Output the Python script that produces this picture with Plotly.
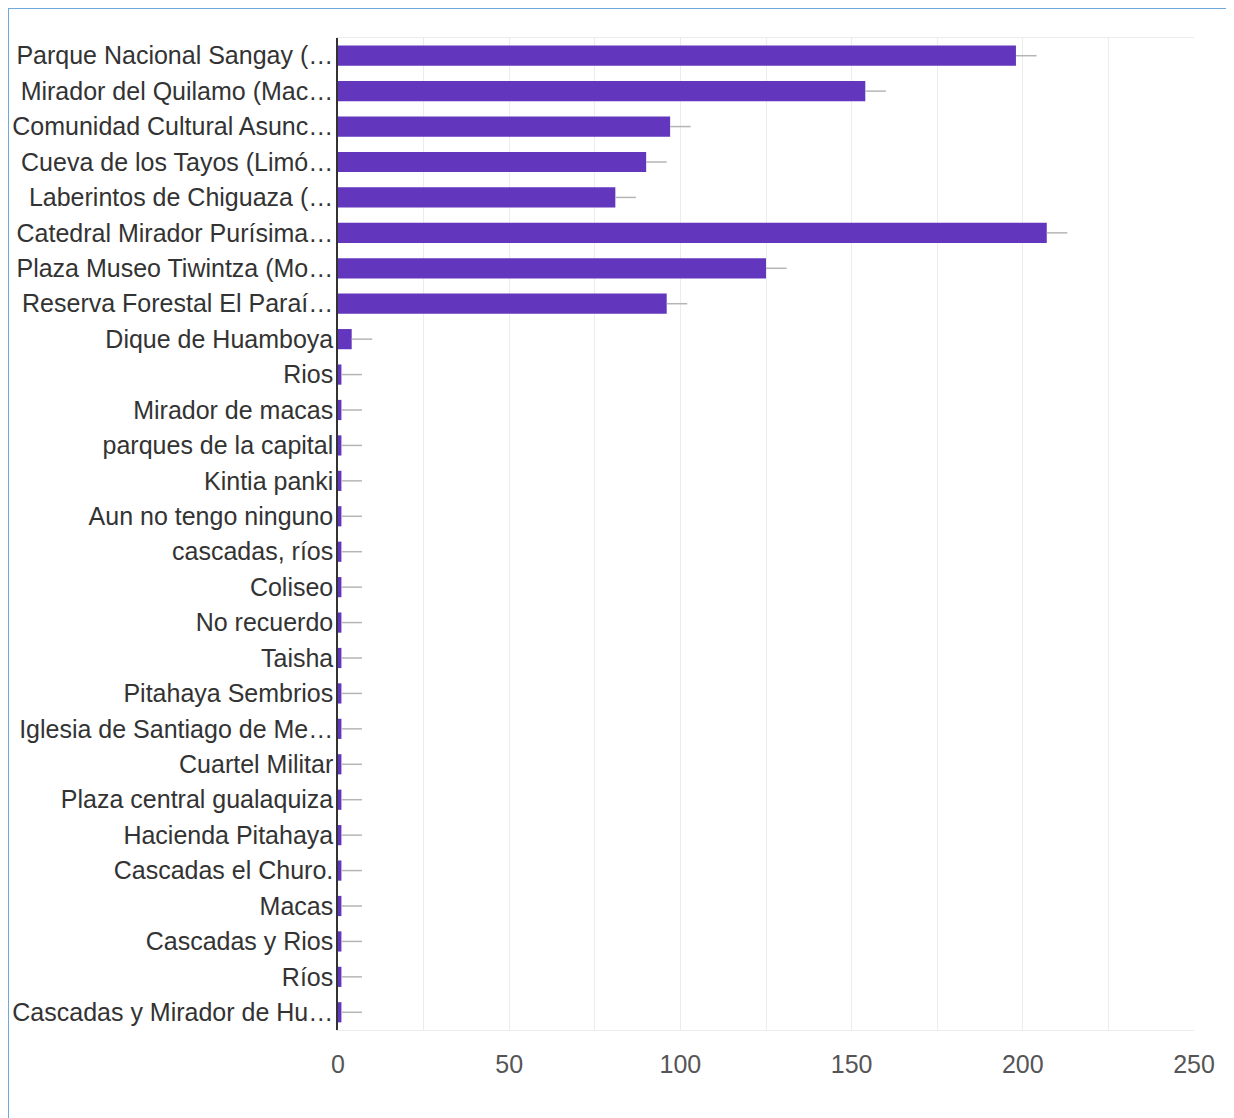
import plotly.graph_objects as go

categories = [
    "Parque Nacional Sangay (…",
    "Mirador del Quilamo (Mac…",
    "Comunidad Cultural Asunc…",
    "Cueva de los Tayos (Limó…",
    "Laberintos de Chiguaza (…",
    "Catedral Mirador Purísima…",
    "Plaza Museo Tiwintza (Mo…",
    "Reserva Forestal El Paraí…",
    "Dique de Huamboya",
    "Rios",
    "Mirador de macas",
    "parques de la capital",
    "Kintia panki",
    "Aun no tengo ninguno",
    "cascadas, ríos",
    "Coliseo",
    "No recuerdo",
    "Taisha",
    "Pitahaya Sembrios",
    "Iglesia de Santiago de Me…",
    "Cuartel Militar",
    "Plaza central gualaquiza",
    "Hacienda Pitahaya",
    "Cascadas el Churo.",
    "Macas",
    "Cascadas y Rios",
    "Ríos",
    "Cascadas y Mirador de Hu…",
]
values = [198, 154, 97, 90, 81, 207, 125, 96, 4] + [1] * 19
x_ticks = [0, 50, 100, 150, 200, 250]

BAR = "#6236bd"

# page has an 8px body margin; figure is sized/offset to compensate
W, H = 1226, 1110
L, T = 330, 30
PW, PH = 856, 992

fig = go.Figure(
    go.Bar(
        x=values,
        y=categories,
        orientation="h",
        marker=dict(color=BAR, line=dict(width=0)),
        width=0.57,
        error_x=dict(
            type="data",
            symmetric=False,
            array=[6] * len(values),
            arrayminus=[0] * len(values),
            color="#b5b5b5",
            thickness=1.5,
            width=0,
        ),
    )
)

fig.update_layout(
    width=W,
    height=H,
    margin=dict(l=L, r=W - L - PW, t=T, b=H - T - PH, autoexpand=False),
    paper_bgcolor="white",
    plot_bgcolor="white",
    showlegend=False,
    font=dict(family="Liberation Sans, Arial, sans-serif", size=25, color="#333"),
    shapes=[
        dict(
            type="rect",
            xref="paper",
            yref="paper",
            x0=(0 - L) / PW,
            x1=(1220 - L) / PW,
            y0=(T + PH - 1125) / PH,
            y1=(T + PH - 0) / PH,
            line=dict(color="#6fa8dc", width=2),
            layer="below",
        )
    ],
)

fig.update_xaxes(
    automargin=False,
    range=[0, 250],
    tickvals=x_ticks,
    ticktext=[str(t) for t in x_ticks],
    tickfont=dict(size=25, color="#555"),
    showgrid=True,
    gridcolor="#ececec",
    gridwidth=1,
    minor=dict(dtick=25, showgrid=True, gridcolor="#ececec", gridwidth=1),
    zeroline=False,
    showline=True,
    mirror=True,
    linecolor="#ececec",
    ticks="",
    ticklabelstandoff=12,
)

fig.update_yaxes(
    automargin=False,
    autorange="reversed",
    tickfont=dict(size=25, color="#333"),
    showgrid=False,
    showline=True,
    linecolor="#333",
    linewidth=1.5,
    ticks="",
    ticklabelstandoff=-2,
)

fig.write_html("out.html")
